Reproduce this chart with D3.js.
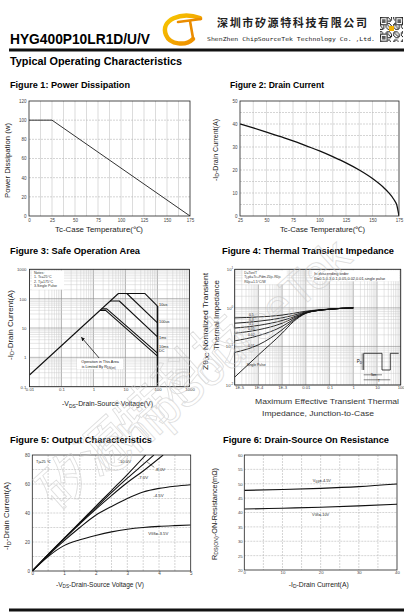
<!DOCTYPE html>
<html>
<head>
<meta charset="utf-8">
<title>HYG400P10LR1D typical operating characteristics</title>
<script src="https://cdn.jsdelivr.net/npm/d3@7.9.0/dist/d3.min.js"></script>
<style>
  html, body { margin: 0; padding: 0; background: #fff; }
  svg { display: block; }
</style>
</head>
<body>
<svg id="page" width="404" height="614"></svg>
<script>
// ---------- data ----------

// fig 1: power dissipation vs case temperature
const pdTemp = [0, 25, 175];
const pdWatt = [100, 100, 0];
const pdXTicks = [0, 25, 50, 75, 100, 125, 150, 175];
const pdYTicks = [0, 20, 40, 60, 80, 100, 120];

// fig 2: drain current vs case temperature
const idTemp = [25, 37.5, 50, 62.5, 75, 87.5, 100, 112.5, 125, 137.5, 150, 160, 165, 170, 173, 175];
const idAmp = [40, 38.3, 36.5, 34.6, 32.7, 30.5, 28.3, 25.8, 23.1, 20, 16.3, 12.6, 10.3, 7.3, 4.6, 0];
const idXTicks = [25, 50, 75, 100, 125, 150, 175];
const idYTicks = [0, 10, 20, 30, 40, 50];

// fig 3: safe operation area
const soaNames = ['10us', '100us', '1ms', '10ms', 'DC'];
const soaVolt = [[0.01, 6, 40, 100], [11, 100], [3.3, 6.4, 100], [1.8, 2.6, 100], [1.6, 2.4, 100]];
const soaAmp = [[0.25, 150, 150, 56], [150, 15], [83, 83, 5], [45, 45, 1.4], [40, 40, 1.1]];
const soaLabelAmp = [60, 16.4, 4.8, 2.4, 1.75];
const soaLabelVolt = 112;
const soaLimitVolt = [100, 100];
const soaLimitAmp = [0.1, 56];
const soaXTicks = [0.01, 0.1, 1, 10, 100, 1000];
const soaYTicks = [0.1, 1, 10, 100, 1000];
const soaNotes = ['Notes:', '1. Tc=25\u00b0C', '2. Tj=175\u00b0C', '3.Single Pulse'];

// fig 4: normalized transient thermal impedance
const zthTime = [1e-5, 1e-4, 1e-3, 3e-3, 0.01, 0.03, 0.1, 0.3, 1];
const zthNames = ['0.5', '0.3', '0.1', '0.05', '0.02', '0.01', 'Single Pulse'];
const zthValues = [
  [0.55, 0.58, 0.65, 0.72, 0.82, 0.88, 0.93, 0.97, 1.0],
  [0.40, 0.45, 0.55, 0.64, 0.79, 0.87, 0.93, 0.97, 1.0],
  [0.30, 0.35, 0.47, 0.58, 0.76, 0.86, 0.92, 0.97, 1.0],
  [0.22, 0.27, 0.40, 0.54, 0.75, 0.85, 0.92, 0.97, 1.0],
  [0.14, 0.19, 0.33, 0.50, 0.74, 0.85, 0.92, 0.97, 1.0],
  [0.07, 0.11, 0.27, 0.47, 0.73, 0.85, 0.92, 0.97, 1.0],
  [0.016, 0.06, 0.22, 0.44, 0.72, 0.85, 0.92, 0.97, 1.0]
];
const zthLabelTime = [5e-5, 5e-5, 5e-5, 5e-5, 5e-5, 5e-5, 8e-5];
const zthLabelZ = [0.66, 0.5, 0.38, 0.29, 0.195, 0.105, 0.033];
const zthXTicks = [1e-5, 1e-4, 1e-3, 0.01, 0.1, 1, 10, 100];
const zthXLabels = ['1E-5', '1E-4', '1E-3', '0.01', '0.1', '1', '10', '100'];
const zthYTicks = [0.01, 0.1, 1, 10];
const zthYExp = ['-2', '-1', '0', '1'];
const zthNotesLeft = ['D=Ton/T', 'Tj,pk=Tc+Pdm.Z\u03b8jc.R\u03b8jc', 'R\u03b8jc=1.5\u00b0C/W'];
const zthNotesRight = ['In descending order', 'D=0.5,0.3,0.1,0.05,0.02,0.01,single pulse'];

// fig 5: output characteristics
const outNames = ['-10.0V', '-8.0V', '-7.0V', '-4.5V', 'VGS=-3.5V'];
const outVolt = [
  [0, 0.5, 1, 1.5, 2, 2.5, 3, 3.58],
  [0, 0.5, 1, 1.5, 2, 2.5, 3, 3.5, 3.84],
  [0, 0.5, 1, 1.5, 2, 2.5, 3, 3.5, 4.13],
  [0, 0.5, 1, 1.5, 2, 2.5, 3, 3.5, 4, 4.5, 5],
  [0, 0.5, 1, 1.5, 2, 2.5, 3, 3.5, 4, 4.5, 5]
];
const outAmp = [
  [0, 11.5, 22.5, 33.5, 44.5, 55.5, 66.5, 80],
  [0, 11.3, 22.2, 33, 43.5, 54, 64, 73.5, 80],
  [0, 11.2, 22, 32.5, 42.5, 52, 61, 69, 80],
  [0, 10.8, 20.8, 30, 38.5, 44.5, 50, 54.5, 57, 58.5, 59.5],
  [0, 10, 17.5, 21.5, 24.5, 27, 28.8, 30, 30.8, 31.3, 31.7]
];
const outLabelVolt = [2.72, 3.87, 3.33, 3.82, 3.66];
const outLabelAmp = [75.4, 70.3, 64.8, 52.4, 26.2];
const outXTicks = [0, 1, 2, 3, 4, 5];
const outYTicks = [0, 20, 40, 60, 80];

// fig 6: on resistance vs drain current
const ronCurrent = [0, 10, 20, 30, 40];
const ronVgs45 = [47.7, 48.0, 48.4, 49.0, 49.9];
const ronVgs10 = [41.2, 41.5, 41.8, 42.3, 42.9];
const ronLabelCurrent = [20.3, 20];
const ronLabelOhm = [51, 39.4];
const ronXTicks = [0, 10, 20, 30, 40];
const ronYTicks = [20, 25, 30, 35, 40, 45, 50, 55, 60];

// ---------- drawing ----------
const FONT = '"Liberation Sans", Arial, Helvetica, sans-serif';
const svg = d3.select('#page').attr('font-family', FONT);
const defs = svg.append('defs');

// rich text with subscripts: parts = [[text, isSub], ...]
function rich(el, parts, fs) {
  let prevSub = false;
  parts.forEach(([s, sub]) => {
    const t = el.append('tspan').text(s);
    if (sub && !prevSub) t.attr('font-size', fs * 0.72).attr('dy', fs * 0.22);
    else if (sub) t.attr('font-size', fs * 0.72);
    else if (prevSub) t.attr('dy', -fs * 0.22);
    prevSub = sub;
  });
  return el;
}

function label(x, y, parts, fs, len, rotate) {
  const t = svg.append('text')
    .attr('transform', `translate(${x},${y})` + (rotate ? ' rotate(-90)' : ''))
    .attr('text-anchor', 'middle').attr('font-size', fs).attr('fill', '#222');
  rich(t, parts, fs);
  if (len) t.attr('textLength', len).attr('lengthAdjust', 'spacingAndGlyphs');
  return t;
}

function title(x, y, s, len) {
  svg.append('text').attr('x', x).attr('y', y).attr('font-size', 9).attr('font-weight', 'bold')
    .attr('textLength', len).attr('lengthAdjust', 'spacingAndGlyphs').text(s);
}

let clipId = 0;
function panel(b) {
  const g = svg.append('g');
  const id = 'clip' + (clipId++);
  g.append('clipPath').attr('id', id).append('rect')
    .attr('x', b.x).attr('y', b.y).attr('width', b.w).attr('height', b.h);
  const grid = g.append('g');
  const plot = g.append('g').attr('clip-path', `url(#${id})`);
  const top = g.append('g');
  return { g, grid, plot, top };
}

function frame(p, b) {
  p.top.append('rect').attr('x', b.x).attr('y', b.y).attr('width', b.w).attr('height', b.h)
    .attr('fill', 'none').attr('stroke', '#222').attr('stroke-width', 0.8);
}

function gridX(p, b, xs, vals, color, dash, width) {
  p.grid.selectAll(null).data(vals).enter().append('line')
    .attr('x1', d => xs(d)).attr('x2', d => xs(d)).attr('y1', b.y).attr('y2', b.y + b.h)
    .attr('stroke', color).attr('stroke-width', width || 0.5).attr('stroke-dasharray', dash);
}
function gridY(p, b, ys, vals, color, dash, width) {
  p.grid.selectAll(null).data(vals).enter().append('line')
    .attr('y1', d => ys(d)).attr('y2', d => ys(d)).attr('x1', b.x).attr('x2', b.x + b.w)
    .attr('stroke', color).attr('stroke-width', width || 0.5).attr('stroke-dasharray', dash);
}

function logVals(lo, hi, major) {
  const out = [];
  for (let e = lo; e < hi; e++) {
    for (let k = 1; k < 10; k++) if ((k === 1) === major) out.push(k * Math.pow(10, e));
  }
  if (major) out.push(Math.pow(10, hi));
  return out;
}

function axes(p, b, xs, ys, xVals, yVals, xFmt, yFmt, padX, padY, fs) {
  const ax = p.top.append('g').attr('transform', `translate(0,${b.y + b.h})`)
    .call(d3.axisBottom(xs).tickValues(xVals).tickSize(0).tickPadding(padX).tickFormat(xFmt));
  const ay = p.top.append('g').attr('transform', `translate(${b.x},0)`)
    .call(d3.axisLeft(ys).tickValues(yVals).tickSize(0).tickPadding(padY).tickFormat(yFmt));
  [ax, ay].forEach(a => {
    a.select('.domain').remove();
    a.attr('font-family', FONT).attr('font-size', fs || 4.5);
    a.selectAll('text').attr('fill', '#444');
  });
  return { ax, ay };
}

function curve(p, xs, ys, xsData, ysData, width, color, interp) {
  const line = d3.line().x(d => xs(d[0])).y(d => ys(d[1])).curve(interp || d3.curveLinear);
  p.plot.append('path').datum(xsData.map((x, i) => [x, ysData[i]]))
    .attr('d', line).attr('fill', 'none').attr('stroke', color || '#111')
    .attr('stroke-width', width || 1.1).attr('stroke-linejoin', 'round');
}

// ---------- header ----------
svg.append('text').attr('x', 10).attr('y', 43.5).attr('font-size', 14).attr('font-weight', 'bold')
  .attr('textLength', 140).attr('lengthAdjust', 'spacingAndGlyphs').text('HYG400P10LR1D/U/V');

const grad = defs.append('linearGradient').attr('id', 'logoGrad')
  .attr('x1', 0).attr('y1', 0).attr('x2', 1).attr('y2', 1);
grad.append('stop').attr('offset', 0).attr('stop-color', '#f7c800');
grad.append('stop').attr('offset', 1).attr('stop-color', '#ef8a00');
const logo = svg.append('g').attr('fill', 'none').attr('stroke-linecap', 'round');
logo.append('path').attr('d', 'M200,18 C181,11 160,20 166,35 C170,45 186,46 193,39')
  .attr('stroke', 'url(#logoGrad)').attr('stroke-width', 4.5);
logo.append('path').attr('d', 'M178,22 L201,19').attr('stroke', '#ea8c00').attr('stroke-width', 2.6);
logo.append('path').attr('d', 'M190,21 L193,38').attr('stroke', '#ea8c00').attr('stroke-width', 2.6);

svg.append('text').attr('x', 217).attr('y', 26.5).attr('font-size', 11).attr('font-weight', 'bold')
  .attr('font-family', '"Noto Sans CJK SC", sans-serif').attr('fill', '#222')
  .attr('textLength', 150).attr('lengthAdjust', 'spacing').text('深圳市矽源特科技有限公司');
svg.append('text').attr('x', 207).attr('y', 41).attr('font-size', 5.5)
  .attr('font-family', '"DejaVu Sans Mono", monospace').attr('fill', '#222')
  .attr('textLength', 168).attr('lengthAdjust', 'spacingAndGlyphs')
  .text('ShenZhen ChipSourceTek Technology Co. ,Ltd.');

// small QR-like block
const qr = svg.append('g').attr('transform', 'translate(380,17)');
const N = 21, m = 23 / N;
for (let i = 0; i < N; i++) {
  for (let j = 0; j < N; j++) {
    const inFinder = (a, b) => i >= a && i < a + 7 && j >= b && j < b + 7;
    let on;
    if (inFinder(0, 0) || inFinder(0, 14) || inFinder(14, 0)) {
      const a = i >= 14 ? 14 : 0, b2 = j >= 14 ? 14 : 0;
      const di = i - a, dj = j - b2;
      on = di === 0 || di === 6 || dj === 0 || dj === 6 || (di >= 2 && di <= 4 && dj >= 2 && dj <= 4);
    } else {
      on = ((i * 31 + j * 17 + i * j) % 7) < 3;
    }
    if (on) qr.append('rect').attr('x', j * m).attr('y', i * m * 1.08).attr('width', m).attr('height', m * 1.08).attr('fill', '#222');
  }
}
qr.append('rect').attr('x', 9).attr('y', 9).attr('width', 5).attr('height', 5).attr('fill', '#f2b000');

svg.append('line').attr('x1', 9).attr('x2', 404).attr('y1', 50).attr('y2', 50)
  .attr('stroke', '#111').attr('stroke-width', 3);
svg.append('text').attr('x', 10).attr('y', 65).attr('font-size', 10).attr('font-weight', 'bold')
  .attr('textLength', 172).attr('lengthAdjust', 'spacingAndGlyphs').text('Typical Operating Characteristics');

// ---------- figure 1 ----------
title(10, 88, 'Figure 1: Power Dissipation', 120);
{
  const b = { x: 29, y: 101, w: 161, h: 115 };
  const xs = d3.scaleLinear().domain([0, 175]).range([b.x, b.x + b.w]);
  const ys = d3.scaleLinear().domain([0, 120]).range([b.y + b.h, b.y]);
  const p = panel(b);
  gridX(p, b, xs, d3.range(12.5, 175, 12.5), '#c4c4c4', null, 0.6);
  gridY(p, b, ys, d3.range(20, 120, 20), '#b8b8b8', '2,1', 0.6);
  curve(p, xs, ys, pdTemp, pdWatt, 1, '#333');
  frame(p, b);
  axes(p, b, xs, ys, pdXTicks, pdYTicks, d3.format('d'), d3.format('d'), 2.5, 2.5, 4.5);
  label(9.8, 160.5, [['Power Dissipation (w)', false]], 7, 75, true);
  label(99, 231.5, [['Tc-Case Temperature(\u2103)', false]], 7.5, 88);
}

// ---------- figure 2 ----------
title(230, 88, 'Figure 2: Drain Current', 94);
{
  const b = { x: 240, y: 101, w: 159, h: 115 };
  const xs = d3.scaleLinear().domain([25, 175]).range([b.x, b.x + b.w]);
  const ys = d3.scaleLinear().domain([0, 50]).range([b.y + b.h, b.y]);
  const p = panel(b);
  gridX(p, b, xs, d3.range(37.5, 175, 12.5), '#c4c4c4', null, 0.6);
  gridY(p, b, ys, d3.range(5, 50, 5), '#b8b8b8', '2,1', 0.6);
  curve(p, xs, ys, idTemp, idAmp, 1.3, '#111', d3.curveMonotoneX);
  frame(p, b);
  axes(p, b, xs, ys, idXTicks, idYTicks, d3.format('d'), d3.format('d'), 2.5, 2.5, 4.5);
  label(217.8, 150, [['-I', false], ['D', true], ['-Drain Current(A)', false]], 7, 62, true);
  label(322.5, 231.5, [['Tc-Case Temperature(\u2103)', false]], 7.5, 85);
}

// ---------- figure 3 ----------
title(10, 254, 'Figure 3: Safe Operation Area', 130);
{
  const b = { x: 29.5, y: 269.3, w: 160, h: 117.4 };
  const xs = d3.scaleLog().domain([0.01, 1000]).range([b.x, b.x + b.w]);
  const ys = d3.scaleLog().domain([0.1, 1000]).range([b.y + b.h, b.y]);
  const p = panel(b);
  gridX(p, b, xs, logVals(-2, 3, false), '#c8c8c8', null, 0.45);
  gridX(p, b, xs, logVals(-2, 3, true), '#8a8a8a', null, 0.6);
  gridY(p, b, ys, logVals(-1, 3, false), '#c8c8c8', null, 0.45);
  gridY(p, b, ys, logVals(-1, 3, true), '#8a8a8a', null, 0.6);

  // notes box
  p.plot.append('rect').attr('x', b.x + 2.5).attr('y', b.y + 1.3).attr('width', 32).attr('height', 19).attr('fill', '#fff');
  p.top.selectAll(null).data(soaNotes).enter().append('text')
    .attr('x', b.x + 4.5).attr('y', (d, i) => b.y + 4.6 + i * 4.5)
    .attr('font-size', 3.6).attr('fill', '#333').text(d => d);

  soaNames.forEach((n, i) => curve(p, xs, ys, soaVolt[i], soaAmp[i], 1.1, '#111'));
  curve(p, xs, ys, soaLimitVolt, soaLimitAmp, 1.6, '#111');
  p.top.selectAll(null).data(soaNames).enter().append('text')
    .attr('x', xs(soaLabelVolt)).attr('y', (d, i) => ys(soaLabelAmp[i]))
    .attr('dy', '0.35em').attr('font-size', 3.8).attr('fill', '#222').text(d => d);

  // R_DS(on) annotation
  defs.append('marker').attr('id', 'arrowHead').attr('viewBox', '0 0 10 10').attr('refX', 9).attr('refY', 5)
    .attr('markerWidth', 5).attr('markerHeight', 5).attr('orient', 'auto')
    .append('path').attr('d', 'M0,0 L10,5 L0,10 Z').attr('fill', '#111');
  p.top.append('line').attr('x1', xs(1.5)).attr('y1', ys(0.95)).attr('x2', xs(0.42)).attr('y2', ys(4.8))
    .attr('stroke', '#111').attr('stroke-width', 0.8).attr('marker-end', 'url(#arrowHead)');
  p.plot.append('rect').attr('x', xs(1.6) - 23).attr('y', ys(0.71) - 3).attr('width', 46).attr('height', 10.5).attr('fill', '#fff');
  p.top.append('text').attr('x', xs(1.6)).attr('y', ys(0.71)).attr('dy', '0.35em').attr('text-anchor', 'middle')
    .attr('font-size', 3.8).attr('fill', '#222').text('Operation in This Area');
  rich(p.top.append('text').attr('x', xs(1.45)).attr('y', ys(0.48)).attr('dy', '0.35em').attr('text-anchor', 'middle')
    .attr('font-size', 3.8).attr('fill', '#222'), [['is Limited By R', false], ['DS(on)', true]], 3.8);

  frame(p, b);
  axes(p, b, xs, ys, soaXTicks, soaYTicks, d => String(d), d => String(d), 1.5, 3, 4.3);
  label(12.5, 325, [['-I', false], ['D', true], ['-Drain Current(A)', false]], 7, 70, true);
  label(107.5, 406, [['-V', false], ['DS', true], ['-Drain-Source Voltage(V)', false]], 7.5, 91);
}

// ---------- figure 4 ----------
title(222, 253.5, 'Figure 4: Thermal Transient Impedance', 172);
{
  const b = { x: 234.7, y: 269.3, w: 166, h: 115.7 };
  const xs = d3.scaleLog().domain([1e-5, 100]).range([b.x, b.x + b.w]);
  const ys = d3.scaleLog().domain([0.01, 10]).range([b.y + b.h, b.y]);
  const p = panel(b);
  gridX(p, b, xs, logVals(-5, 2, false), '#c8c8c8', null, 0.45);
  gridX(p, b, xs, logVals(-5, 2, true), '#8a8a8a', null, 0.6);
  gridY(p, b, ys, logVals(-2, 1, false), '#c8c8c8', null, 0.45);
  gridY(p, b, ys, logVals(-2, 1, true), '#8a8a8a', null, 0.6);

  p.plot.append('rect').attr('x', b.x + 8).attr('y', b.y + 1).attr('width', 44).attr('height', 14).attr('fill', '#fff');
  p.top.selectAll(null).data(zthNotesLeft).enter().append('text')
    .attr('x', b.x + 9.5).attr('y', (d, i) => b.y + 4.6 + i * 4.3)
    .attr('font-size', 3.4).attr('fill', '#333').text(d => d);
  p.plot.append('rect').attr('x', b.x + 77.5).attr('y', b.y + 1).attr('width', 87).attr('height', 11).attr('fill', '#fff');
  p.top.selectAll(null).data(zthNotesRight).enter().append('text')
    .attr('x', b.x + 79.5).attr('y', (d, i) => b.y + 5.3 + i * 5)
    .attr('font-size', 3.9).attr('fill', '#222').text(d => d);

  zthNames.forEach((n, i) => curve(p, xs, ys, zthTime, zthValues[i], 0.9, '#111', d3.curveMonotoneX));
  p.top.selectAll(null).data(zthNames).enter().append('text')
    .attr('x', (d, i) => xs(zthLabelTime[i])).attr('y', (d, i) => ys(zthLabelZ[i]))
    .attr('dy', '0.35em').attr('text-anchor', 'middle')
    .attr('font-size', 3.4).attr('fill', '#222').text(d => d);

  // duty-cycle pulse sketch, bottom right of the plot
  const ins = p.top.append('g').attr('transform', `translate(${b.x},${b.y})`)
    .attr('fill', 'none').attr('stroke', '#111').attr('stroke-width', 0.8);
  ins.append('path').attr('d', 'M129,100.7 V84 H147.3 V100.7 H155.6 V84 H164');
  ins.append('path').attr('d', 'M127.5,84 V100.7').attr('stroke-width', 0.5);
  ins.append('path').attr('d', 'M129,105.5 H147.3 M129,110.5 H155.6').attr('stroke-width', 0.5);
  p.top.append('text').attr('x', b.x + 122).attr('y', b.y + 94).attr('font-size', 4.5).attr('fill', '#111')
    .call(t => rich(t, [['P', false], ['D', true]], 4.5));
  p.top.append('text').attr('x', b.x + 136).attr('y', b.y + 107).attr('font-size', 3.3).attr('fill', '#111').text('Ton');
  p.top.append('text').attr('x', b.x + 143).attr('y', b.y + 112.2).attr('font-size', 3.6).attr('fill', '#111').text('T');

  frame(p, b);
  const a = axes(p, b, xs, ys, zthXTicks, zthYTicks, (d, i) => zthXLabels[i], () => '', 0.8, 1.5, 4.2);
  a.ax.selectAll('.tick text').filter((d, i) => i === 0).attr('text-anchor', 'start');
  a.ay.selectAll('.tick text').each(function (d, i) {
    const t = d3.select(this).text('10');
    t.append('tspan').attr('dy', -1.8).attr('font-size', 3).text(zthYExp[i]);
  });
  label(207.5, 321.5, [['Z\u03b8', false], ['JC', true], ['    Nomalized Transient', false]], 7.5, 97, true);
  label(218.5, 315, [['Thermal     Impedance', false]], 7.5, 70, true);
  svg.append('text').attr('x', 327).attr('y', 403.5).attr('text-anchor', 'middle').attr('font-size', 8)
    .attr('fill', '#333').attr('textLength', 144).attr('lengthAdjust', 'spacingAndGlyphs')
    .text('Maximum Effective Transient Thermal');
  svg.append('text').attr('x', 318).attr('y', 415.5).attr('text-anchor', 'middle').attr('font-size', 8)
    .attr('fill', '#333').attr('textLength', 112).attr('lengthAdjust', 'spacingAndGlyphs')
    .text('Impedance, Junction-to-Case');
}

// ---------- figure 5 ----------
title(10, 443, 'Figure 5: Output Characteristics', 142);
{
  const b = { x: 32.3, y: 455, w: 158.4, h: 116 };
  const xs = d3.scaleLinear().domain([0, 5]).range([b.x, b.x + b.w]);
  const ys = d3.scaleLinear().domain([0, 80]).range([b.y + b.h, b.y]);
  const p = panel(b);
  gridX(p, b, xs, d3.range(0.5, 5, 0.5), '#b8b8b8', '2,1', 0.6);
  gridY(p, b, ys, d3.range(10, 80, 10), '#b8b8b8', '2,1', 0.6);
  outNames.forEach((n, i) => curve(p, xs, ys, outVolt[i], outAmp[i], 1.1, '#111', d3.curveMonotoneX));
  p.top.selectAll(null).data(outNames).enter().append('text')
    .attr('x', (d, i) => xs(outLabelVolt[i])).attr('y', (d, i) => ys(outLabelAmp[i]))
    .attr('dy', '0.35em').attr('font-size', 4.3).attr('fill', '#222')
    .each(function (d) {
      if (d.startsWith('VGS')) rich(d3.select(this), [['V', false], ['GS', true], [d.slice(3), false]], 4.3);
      else d3.select(this).text(d);
    });
  p.top.append('line').attr('x1', xs(3.85)).attr('y1', ys(71.5)).attr('x2', xs(3.62)).attr('y2', ys(75.2))
    .attr('stroke', '#111').attr('stroke-width', 0.5);
  p.top.append('text').attr('x', xs(0.12)).attr('y', ys(75.4)).attr('dy', '0.35em')
    .attr('font-size', 3.8).attr('fill', '#222').text('Tj=25 \u2103');
  frame(p, b);
  axes(p, b, xs, ys, outXTicks, outYTicks, d3.format('d'), d3.format('d'), 1, 2.3, 4.5);
  label(9.2, 516, [['-I', false], ['D', true], ['-Drain Current(A)', false]], 7, 68, true);
  label(100, 586.5, [['-V', false], ['DS', true], ['-Drain-Source Voltage (V)', false]], 7.5, 88);
}

// ---------- figure 6 ----------
title(223, 443, 'Figure 6: Drain-Source On Resistance', 166);
{
  const b = { x: 244.3, y: 455, w: 152.7, h: 115 };
  const xs = d3.scaleLinear().domain([0, 40]).range([b.x, b.x + b.w]);
  const ys = d3.scaleLinear().domain([20, 60]).range([b.y + b.h, b.y]);
  const p = panel(b);
  gridX(p, b, xs, d3.range(5, 40, 5), '#b8b8b8', '2,1', 0.6);
  gridY(p, b, ys, d3.range(25, 60, 5), '#b8b8b8', '2,1', 0.6);
  curve(p, xs, ys, ronCurrent, ronVgs45, 1.1, '#111', d3.curveMonotoneX);
  curve(p, xs, ys, ronCurrent, ronVgs10, 1.1, '#111', d3.curveMonotoneX);
  [['-4.5V', 0], ['-10V', 1]].forEach(([v, i]) => {
    rich(p.top.append('text').attr('x', xs(ronLabelCurrent[i])).attr('y', ys(ronLabelOhm[i]))
      .attr('dy', '0.35em').attr('text-anchor', 'middle').attr('font-size', 3.9).attr('fill', '#222'),
      [['V', false], ['GS', true], ['=' + v, false]], 3.9);
  });
  frame(p, b);
  axes(p, b, xs, ys, ronXTicks, ronYTicks, d3.format('d'), d3.format('d'), 1, 1.6, 4.3);
  label(216.8, 514, [['R', false], ['DS(ON)', true], ['-ON-Resistance(m\u03a9)', false]], 7, 92, true);
  label(318.7, 586.5, [['-I', false], ['D', true], ['-Drain Current(A)', false]], 7.5, 60);
}

svg.append('line').attr('x1', 9).attr('x2', 404).attr('y1', 610).attr('y2', 610)
  .attr('stroke', '#111').attr('stroke-width', 3);

// ---------- watermark (kept inside the page) ----------
const wm = svg.append('g').attr('fill', 'none').attr('stroke', '#c8c8c8')
  .attr('stroke-width', 0.8).attr('opacity', 0.6);
wm.append('text').attr('transform', 'translate(58,512) rotate(-42)').attr('font-size', 52)
  .attr('font-family', '"Noto Sans CJK SC", sans-serif').text('矽源特科技');
wm.append('text').attr('transform', 'translate(112,478) rotate(-42)').attr('font-size', 48)
  .attr('font-family', FONT).text('ChipSourceTek');
</script>
</body>
</html>
